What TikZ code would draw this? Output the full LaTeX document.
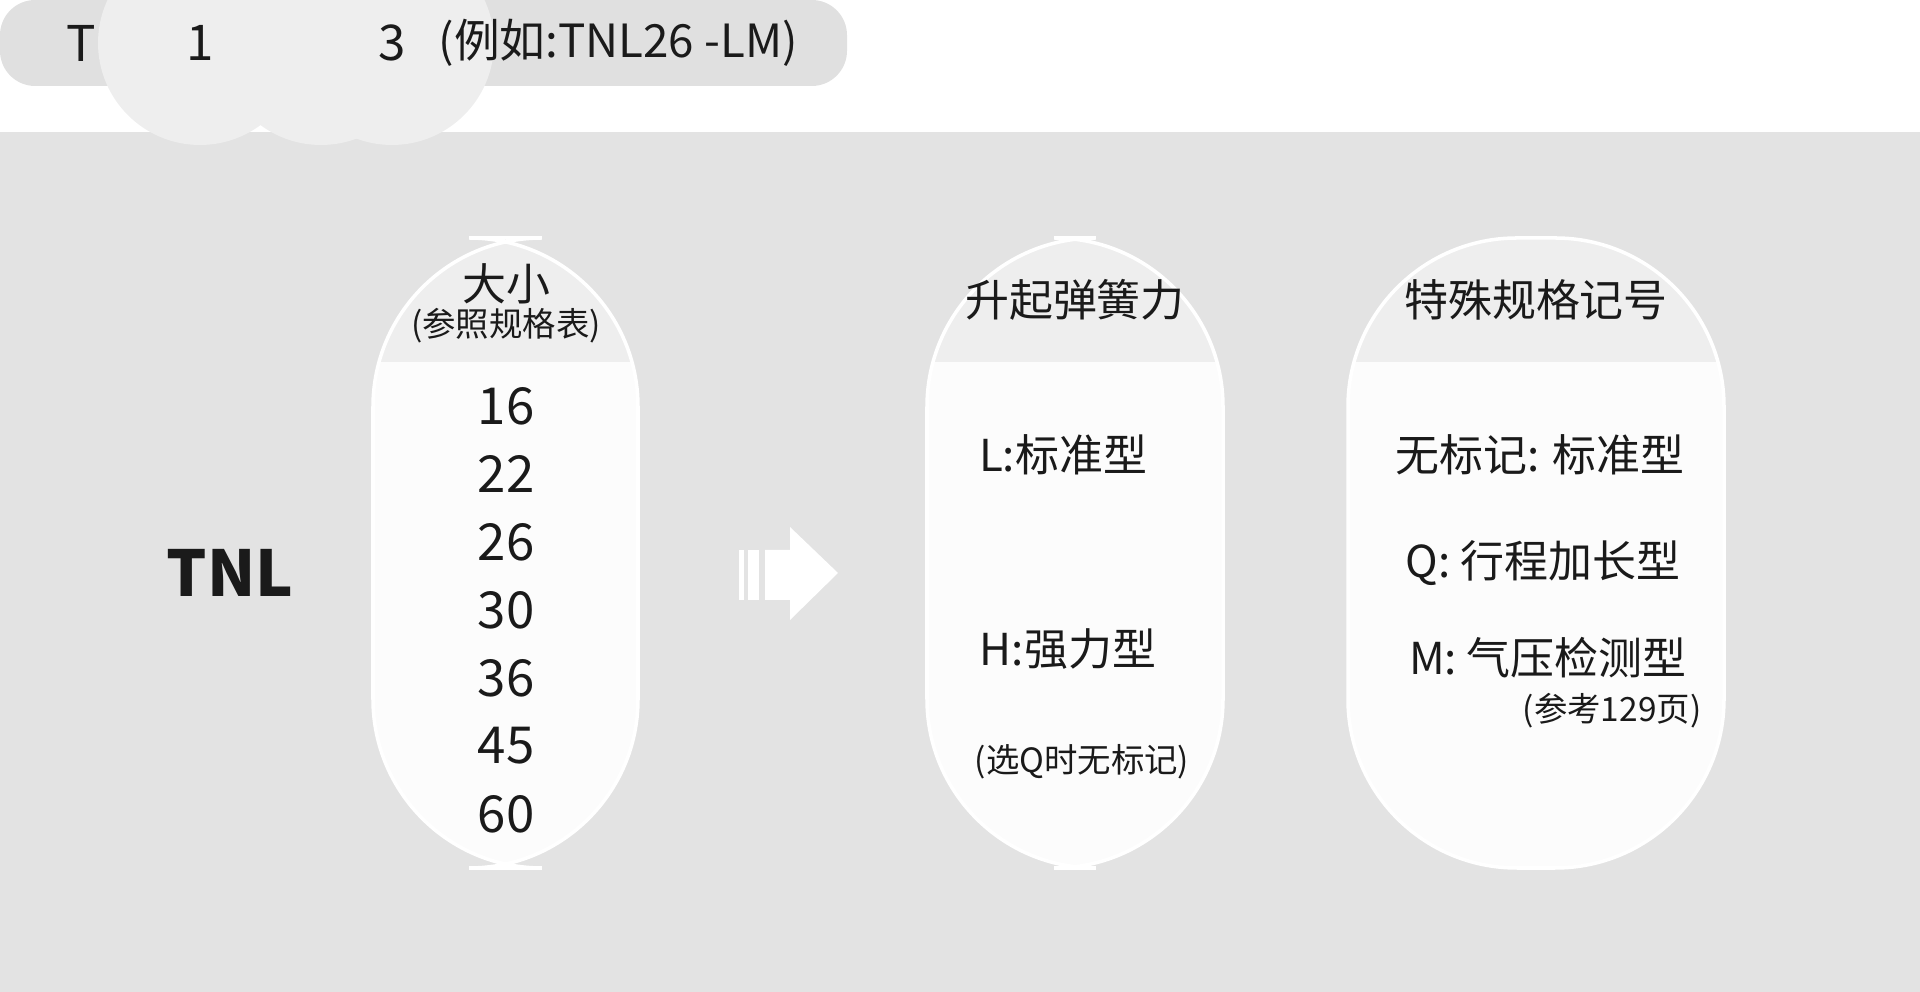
\documentclass[tikz,border=0pt]{standalone}
\usepackage{fontspec}
\setmainfont{Noto Sans CJK SC}
\usetikzlibrary{positioning}
\definecolor{bgGray}{HTML}{E3E3E3}
\definecolor{barGray}{HTML}{E0E0E0}
\definecolor{headGray}{HTML}{EEEEEE}
\definecolor{bodyWhite}{HTML}{FCFCFC}
\definecolor{txt}{HTML}{1A1A1A}

\begin{document}
\begin{tikzpicture}[x=0.01cm, y=-0.01cm, every node/.style={text=txt, inner sep=0pt},
        digit/.style={circle, fill=headGray, minimum size=58, font=\fontsize{14}{16}\selectfont},
        headtxt/.style={font=\fontsize{12.5}{15}\selectfont},
        item/.style={font=\fontsize{12.5}{15}\selectfont},
        note/.style={font=\fontsize{9.5}{12}\selectfont},
        size/.style={font=\fontsize{14.5}{17}\selectfont}]

    \useasboundingbox (0,0) rectangle (1920,992);
    \fill[bgGray] (0,132) rectangle (1920,992);
    \fill[barGray, rounded corners=10] (0,0) rectangle (847,86);

    % code line
    \node[font=\fontsize{14}{16}\selectfont] (code) at (112,43) {TNL};
    \node[digit] (d1) at (200,43) {1};
    \node[font=\fontsize{14}{16}\selectfont] (dash) at (259,43) {–};
    \node[digit] (d2) at (321,43) {2};
    \node[digit] (d3) at (392,43) {3};
    \node[font=\fontsize{13}{16}\selectfont, anchor=west] (example) at (438,43) {(例如:TNL26 -LM)};

    \node[font=\fontsize{18}{20}\selectfont\bfseries] (tnl) at (230,573) {TNL};

    % columns
    \foreach \x/\xx/\nm in {373/638/size, 927/1223/spring, 1348/1724/spec} {
        \begin{scope}
            \clip[rounded corners=48] (\x,238) rectangle (\xx,868);
            \fill[bodyWhite] (\x,238) rectangle (\xx,868);
            \fill[headGray] (\x,238) rectangle (\xx,362);
        \end{scope}
        \draw[white, line width=1pt, rounded corners=48] (\x,238) rectangle (\xx,868);
    }

    \node[headtxt] (sizeHead) at (506,284) {大小};
    \node[note] (sizeRef) at (506,326) {(参照规格表)};
    \foreach \v [count=\i from 0] in {16,22,26,30,36,45,60}
        \node[size] (n\v) at (506,406+68*\i) {\v};

    % arrow
    \fill[white] (739,550) rectangle (744,600);
    \fill[white] (748,550) rectangle (759,600);
    \fill[white] (765,550) -- (790,550) -- (790,527) -- (838,573) -- (790,620) -- (790,600) -- (765,600) -- cycle;

    \node[headtxt] (springHead) at (1075,300) {升起弹簧力};
    \node[item] (lType) at (1063,455) {L:标准型};
    \node[item] (hType) at (1068,649) {H:强力型};
    \node[note] (qNote) at (1082,762) {(选Q时无标记)};

    \node[headtxt] (specHead) at (1536,300) {特殊规格记号};
    \node[item] (none) at (1540,455) {无标记: 标准型};
    \node[item] (qType) at (1543,563) {Q: 行程加长型};
    \node[item] (mType) at (1548,658) {M: 气压检测型};
    \node[note, anchor=east] (mRef) at (1702,711) {(参考129页)};
\end{tikzpicture}
\end{document}
